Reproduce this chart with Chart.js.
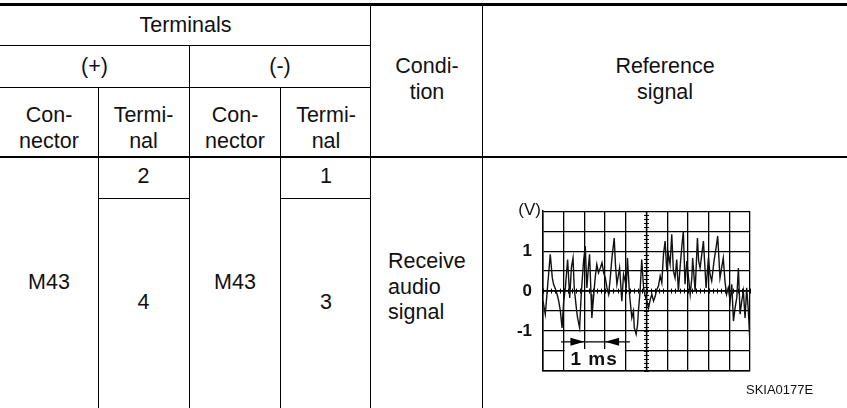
<!DOCTYPE html>
<html>
<head>
<meta charset="utf-8">
<script src="https://cdn.jsdelivr.net/npm/chart.js@4"></script>
<style>
  html, body { margin: 0; padding: 0; background: #fff; }
  body { width: 847px; height: 408px; position: relative; overflow: hidden;
         font-family: "Liberation Sans", Arial, Helvetica, sans-serif; color: #111; }
  .ln { position: absolute; background: #000; }
  .tx { position: absolute; font-size: 21.5px; line-height: 26px; text-align: center; white-space: nowrap; }
  #scope { position: absolute; left: 490px; top: 190px; }
  #code { position: absolute; left: 746px; top: 382px; font-size: 13px; }
</style>
</head>
<body>
<!-- table rules -->
<div class="ln" style="left:0;top:3px;width:847px;height:3px"></div>
<div class="ln" style="left:0;top:45px;width:371px;height:1px"></div>
<div class="ln" style="left:0;top:87px;width:371px;height:1px"></div>
<div class="ln" style="left:0;top:156px;width:847px;height:2px"></div>
<div class="ln" style="left:98px;top:198px;width:91px;height:1px"></div>
<div class="ln" style="left:281px;top:198px;width:90px;height:1px"></div>
<div class="ln" style="left:370px;top:6px;width:1px;height:402px"></div>
<div class="ln" style="left:482px;top:6px;width:1px;height:402px"></div>
<div class="ln" style="left:189px;top:45px;width:1px;height:363px"></div>
<div class="ln" style="left:98px;top:88px;width:1px;height:320px"></div>
<div class="ln" style="left:280px;top:88px;width:1px;height:320px"></div>

<!-- table text -->
<div class="tx" style="left:0;width:371px;top:12px">Terminals</div>
<div class="tx" style="left:0;width:189px;top:53px">(+)</div>
<div class="tx" style="left:189px;width:182px;top:53px">(-)</div>
<div class="tx" style="left:0;width:98px;top:102px">Con-<br>nector</div>
<div class="tx" style="left:98px;width:91px;top:102px">Termi-<br>nal</div>
<div class="tx" style="left:189px;width:92px;top:102px">Con-<br>nector</div>
<div class="tx" style="left:281px;width:90px;top:102px">Termi-<br>nal</div>
<div class="tx" style="left:371px;width:112px;top:53px">Condi-<br>tion</div>
<div class="tx" style="left:483px;width:364px;top:53px">Reference<br>signal</div>
<div class="tx" style="left:98px;width:91px;top:163px">2</div>
<div class="tx" style="left:281px;width:90px;top:163px">1</div>
<div class="tx" style="left:0;width:98px;top:269px">M43</div>
<div class="tx" style="left:189px;width:92px;top:269px">M43</div>
<div class="tx" style="left:98px;width:91px;top:289px">4</div>
<div class="tx" style="left:281px;width:90px;top:289px">3</div>
<div class="tx" style="left:388px;top:249px;text-align:left;line-height:25.5px">Receive<br>audio<br>signal</div>

<canvas id="scope" width="357" height="218"></canvas>
<div id="code">SKIA0177E</div>

<script>
// waveform: time (ms) and voltage (V)
const times = [0, 0.11, 0.23, 0.35, 0.45, 0.51, 0.61, 0.68, 0.76, 0.84,
  0.92, 1.0, 1.08, 1.19, 1.29, 1.37, 1.45, 1.51, 1.61, 1.67,
  1.77, 1.83, 1.88, 1.96, 2.04, 2.12, 2.19, 2.25, 2.32, 2.36,
  2.44, 2.52, 2.6, 2.68, 2.77, 2.85, 2.93, 3.01, 3.09, 3.17,
  3.25, 3.33, 3.44, 3.5, 3.57, 3.7, 3.81, 3.89, 3.97, 4.02,
  4.08, 4.18, 4.29, 4.37, 4.41, 4.5, 4.57, 4.61, 4.69, 4.77,
  4.86, 4.94, 5.02, 5.1, 5.18, 5.26, 5.34, 5.42, 5.5, 5.58,
  5.66, 5.74, 5.82, 5.9, 5.98, 6.06, 6.14, 6.22, 6.3, 6.38,
  6.46, 6.54, 6.62, 6.7, 6.78, 6.86, 6.95, 7.03, 7.11, 7.19,
  7.23, 7.35, 7.46, 7.52, 7.59, 7.67, 7.75, 7.88, 7.99, 8.07,
  8.15, 8.26, 8.36, 8.44, 8.55, 8.63, 8.71, 8.79, 8.87, 8.95,
  9.04, 9.12, 9.2, 9.28, 9.36, 9.44, 9.52, 9.6, 9.68, 9.76,
  9.84, 9.92, 10.0];
const volts = [-0.25, -0.58, 0.17, 0.92, 0.33, 0.17, 0.04, -0.08, -0.25, -0.5,
  -0.92, -0.25, 0.08, 0.79, -0.17, 0.58, 0.83, 0.08, -0.42, -0.67,
  -0.92, -0.25, 0.17, 0.75, 1.13, 0.08, 0.58, 0.92, -0.08, -0.67,
  -0.17, 0.33, 0.67, 0.46, 0.58, 0.71, 0.46, 0.33, 0.08, -0.08,
  0.33, 0.83, 1.33, 0.67, 0.17, 0.58, -0.25, 0.42, 0.25, 0.08,
  0.83, -0.08, -0.67, -0.5, -0.92, -1.08, -0.83, -0.5, 0, 0.79,
  0.08, -0.13, -0.25, -0.42, -0.21, -0.08, -0.25, -0.13, 0.04, 0.13,
  0.38, 0.21, 0.92, 1.25, 0.5, 0.92, 0.67, 1.42, 0.5, 0.33,
  0.79, 0, 0.58, 1.08, 1.5, 0.17, 0.75, 0.33, -0.08, 0.33,
  0.83, 0, 1.33, 0.75, 0.58, 0.92, 1.25, 0.08, 0.83, 0.42,
  0.25, 0.75, 1.08, 1.38, 0.33, 0.58, 0.83, 0.25, -0.08, 0.08,
  -0.25, 0.17, -0.75, -0.42, -0.17, 0.58, -0.58, -0.25, 0, -0.67,
  0.08, -0.5, -1.33];

// axis ranges and labels
const timeRange = [0, 10];       // ms, 1 ms per division
const voltRange = [-2, 2];       // V, 0.5 V per division
const voltLabels = [1, 0, -1];
const unitLabel = '(V)';
const spanLabel = '1 ms';
const spanFrom = 2, spanTo = 3;  // the 1 ms marker sits between these divisions

const FONT = '"Liberation Sans", Arial, Helvetica, sans-serif';

const scopeDecor = {
    id: 'scopeDecor',
    beforeDatasetsDraw(chart) {
        const ctx = chart.ctx;
        const x = chart.scales.x, y = chart.scales.y;
        const area = chart.chartArea;
        ctx.save();

        // white label box at the bottom for "1 ms"
        const bx1 = x.getPixelForValue(1) + 1, bx2 = x.getPixelForValue(4) - 1;
        const by1 = y.getPixelForValue(-1.5) - 2, by2 = area.bottom - 1;
        ctx.fillStyle = '#fff';
        ctx.fillRect(bx1, by1, bx2 - bx1, by2 - by1);

        // centre axes with small tick marks
        ctx.strokeStyle = '#000';
        ctx.lineWidth = 1.3;
        const cx = x.getPixelForValue(5), cy = y.getPixelForValue(0);
        ctx.beginPath();
        ctx.moveTo(cx, area.top); ctx.lineTo(cx, area.bottom);
        ctx.moveTo(area.left, cy); ctx.lineTo(area.right, cy);
        ctx.stroke();
        ctx.lineWidth = 1;
        ctx.beginPath();
        for (let v = voltRange[0]; v <= voltRange[1] + 1e-9; v += 0.1) {
            const py = Math.round(y.getPixelForValue(v)) + 0.5;
            ctx.moveTo(cx - 2.5, py); ctx.lineTo(cx + 2.5, py);
        }
        for (let t = timeRange[0]; t <= timeRange[1] + 1e-9; t += 0.2) {
            const px = Math.round(x.getPixelForValue(t)) + 0.5;
            ctx.moveTo(px, cy - 2.5); ctx.lineTo(px, cy + 2.5);
        }
        ctx.stroke();

        // span arrows
        const ay = y.getPixelForValue(-1.27);
        ctx.lineWidth = 1.2;
        ctx.beginPath();
        ctx.moveTo(x.getPixelForValue(0.87), ay);
        ctx.lineTo(x.getPixelForValue(4.2), ay);
        ctx.stroke();
        ctx.fillStyle = '#000';
        const t1 = x.getPixelForValue(spanFrom), t2 = x.getPixelForValue(spanTo);
        ctx.beginPath();
        ctx.moveTo(t1, ay); ctx.lineTo(t1 - 14, ay - 4); ctx.lineTo(t1 - 14, ay + 4); ctx.closePath();
        ctx.moveTo(t2, ay); ctx.lineTo(t2 + 14, ay - 4); ctx.lineTo(t2 + 14, ay + 4); ctx.closePath();
        ctx.fill();

        // "1 ms" text
        ctx.font = 'bold 19px ' + FONT;
        ctx.textAlign = 'center';
        ctx.textBaseline = 'alphabetic';
        ctx.fillStyle = '#111';
        ctx.letterSpacing = '1px';
        ctx.fillText(spanLabel, x.getPixelForValue(2.47), y.getPixelForValue(-1.86));
        ctx.letterSpacing = '0px';

        // unit label
        ctx.font = '17px ' + FONT;
        ctx.textAlign = 'right';
        ctx.textBaseline = 'middle';
        ctx.fillText(unitLabel, area.left - 2, area.top - 1);
        ctx.restore();
    }
};

new Chart(document.getElementById('scope').getContext('2d'), {
    type: 'line',
    data: {
        datasets: [{
            data: times.map((t, i) => ({ x: t, y: volts[i] })),
            borderColor: '#111',
            borderWidth: 1.4,
            pointRadius: 0,
            tension: 0,
            fill: false
        }]
    },
    options: {
        responsive: false,
        animation: false,
        layout: { padding: { left: 0, top: 20, right: 97, bottom: 37 } },
        plugins: { legend: { display: false }, tooltip: { enabled: false } },
        scales: {
            x: {
                type: 'linear',
                min: timeRange[0],
                max: timeRange[1],
                ticks: { display: false, stepSize: 1, autoSkip: false },
                grid: { color: '#000', lineWidth: 1.3, drawTicks: false },
                border: { display: true, color: '#000', width: 1.5 },
                afterFit: function (scale) { scale.height = 0; }
            },
            y: {
                min: voltRange[0],
                max: voltRange[1],
                ticks: {
                    stepSize: 0.5,
                    autoSkip: false,
                    padding: 11,
                    color: '#111',
                    font: { family: FONT, size: 17, weight: 'bold' },
                    callback: function (v) { return voltLabels.includes(v) ? String(v) : ''; }
                },
                grid: { color: '#000', lineWidth: 1.3, drawTicks: false },
                border: { display: true, color: '#000', width: 1.5 },
                afterFit: function (scale) { scale.width = 53; }
            }
        }
    },
    plugins: [scopeDecor]
});
</script>
</body>
</html>
